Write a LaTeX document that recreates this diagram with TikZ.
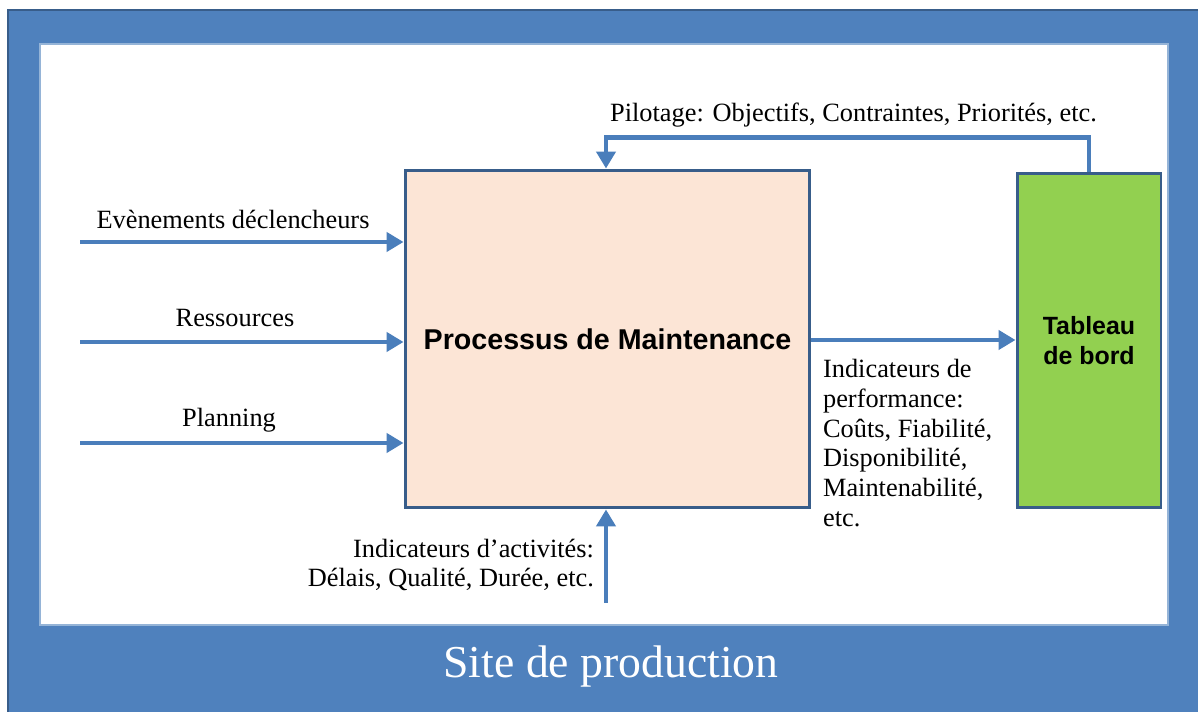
\documentclass[tikz,border=0pt]{standalone}
\usepackage{fontspec}
\setmainfont{Liberation Serif}
\newfontfamily\ArialBold{Liberation Sans}[BoldFont={* Bold}]
\usepackage{tikz}
\usetikzlibrary{arrows.meta}
\usepackage{xcolor}
\definecolor{ColFrame}{RGB}{79,129,189}
\definecolor{ColLine}{RGB}{56,93,138}
\definecolor{ColArrow}{RGB}{74,126,187}
\definecolor{ColProc}{RGB}{252,229,214}
\definecolor{ColBoard}{RGB}{146,208,80}
\tikzstyle{BoxProc}=[rectangle,draw=ColLine,fill=ColProc,line width=1.7pt,
minimum width=8.1cm,minimum height=6.76cm,inner sep=0pt,
font=\ArialBold\bfseries\fontsize{16.3}{19}\selectfont]
\tikzstyle{BoxBoard}=[rectangle,draw=ColLine,fill=ColBoard,line width=1.7pt,
minimum width=2.88cm,minimum height=6.7cm,inner sep=0pt,align=center,
font=\ArialBold\bfseries\fontsize{14.2}{17.5}\selectfont]
\tikzstyle{EdgeArrow}=[ColArrow,line width=2.6pt,-{Triangle[length=3.4mm,width=3.8mm]}]
\tikzstyle{Label}=[inner sep=1pt,font=\fontsize{15}{17}\selectfont]

\begin{document}
\begin{tikzpicture}[x=0.02cm,y=0.02cm]
        \useasboundingbox(0,0)rectangle(1198,712);
        \fill[white](0,0)rectangle(1198,712);
        \draw[ColLine,fill=ColFrame,line width=1pt](8,-20)rectangle(1220,702);
        \draw[ColFrame!60!white,fill=white,line width=0.6pt](40,87)rectangle(1168,668);
        \node[BoxProc](proc)at(607.5,373){Processus de Maintenance};
        \node[BoxBoard](board)at(1089,371.5){Tableau\\de bord};
        \coordinate(inA)at(80,470);
        \coordinate(inB)at(80,370);
        \coordinate(inC)at(80,269);
        \coordinate(inD)at(606,109);
        \draw[EdgeArrow](inA)--(inA-|proc.west);
        \draw[EdgeArrow](inB)--(inB-|proc.west);
        \draw[EdgeArrow](inC)--(inC-|proc.west);
        \draw[EdgeArrow](inD)--(proc.south-|inD);
        \draw[EdgeArrow](proc.east|-0,372)--(board.west|-0,372);
        \draw[EdgeArrow](board.north)--++(0,34)-|(proc.north-|inD);
        \node[Label](lblA)at(233,493){Evènements déclencheurs};
        \node[Label](lblB)at(235,394){Ressources};
        \node[Label](lblC)at(229,292){Planning};
        \node[Label,anchor=west](lblD)at(608,597){Pilotage: Objectifs, Contraintes, Priorités, etc.};
        \node[Label,anchor=east,align=right](lblE)at(596,147){Indicateurs d’activités:\\Délais, Qualité, Durée, etc.};
        \node[Label,anchor=north west,align=left](lblF)at(821,355)
        {Indicateurs de\\performance:\\Coûts, Fiabilité,\\Disponibilité,\\Maintenabilité,\\etc.};
        \node[white,font=\fontsize{26}{30}\selectfont](site)at(611,45){Site de production};
    \end{tikzpicture}
\end{document}
